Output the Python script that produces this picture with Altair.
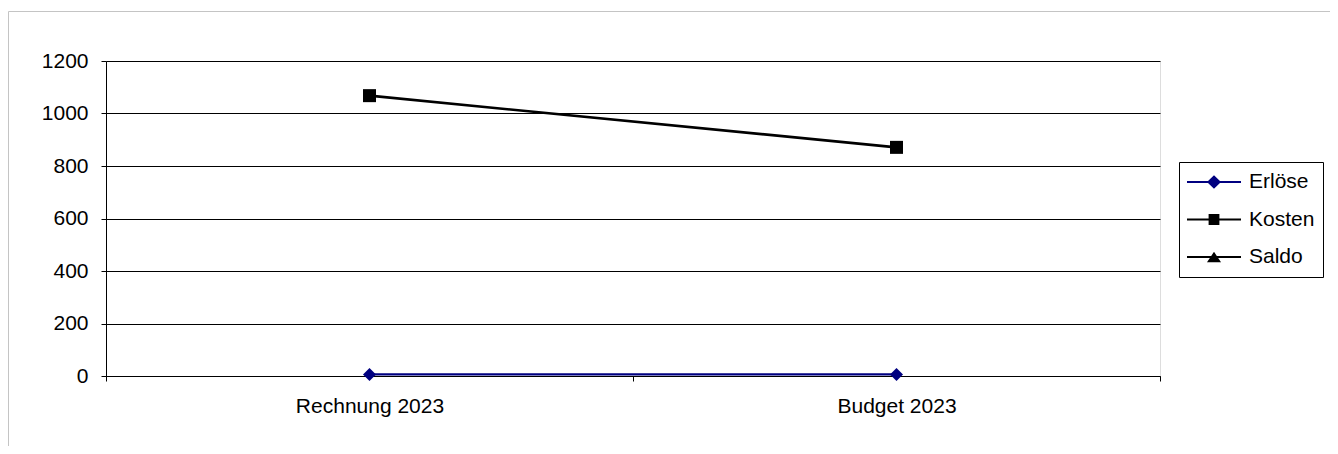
import altair as alt
import pandas as pd

categories = ["Rechnung 2023", "Budget 2023"]
series_names = ["Erlöse", "Kosten", "Saldo"]
erloese = [6, 6]
kosten = [1068, 871]
y_ticks = [0, 200, 400, 600, 800, 1000, 1200]

series_colors = ["#000080", "#000000", "#000000"]
plot_shapes = ["diamond", "square", "triangle-up"]
plot_sizes = [170, 169, 150]
line_widths = [2.2, 2.6, 2.2]
legend_shapes = [
    "M-1,-0.034H1V0.034H-1Z M0,-0.25L0.26,0L0,0.25L-0.26,0Z",
    "M-1,-0.034H1V0.034H-1Z M-0.2,-0.2H0.2V0.2H-0.2Z",
    "M-1,-0.034H1V0.034H-1Z M0,-0.19L0.26,0.19H-0.26Z",
]

rows = []
for c, v in zip(categories, erloese):
    rows.append({"Kategorie": c, "Serie": "Erlöse", "Wert": v})
for c, v in zip(categories, kosten):
    rows.append({"Kategorie": c, "Serie": "Kosten", "Wert": v})
df = pd.DataFrame(rows)

FONT = "Liberation Sans"
FS = 21

x_enc = alt.X(
    "Kategorie:N",
    sort=categories,
    scale=alt.Scale(type="band", domain=categories, paddingInner=0, paddingOuter=0),
    axis=alt.Axis(
        title=None, labelAngle=0, tickBand="extent", grid=False,
        domainColor="black", tickColor="black", tickSize=5, labelPadding=14,
        labelFontSize=FS, labelFont=FONT, labelColor="black",
    ),
)
y_enc = alt.Y(
    "Wert:Q",
    scale=alt.Scale(domain=[0, 1200], nice=False, zero=True),
    axis=alt.Axis(
        title=None, values=y_ticks, format="d", grid=True, gridColor="black", gridWidth=1,
        domainColor="black", tickColor="black", tickSize=5, labelPadding=13,
        labelFontSize=FS, labelFont=FONT, labelColor="black",
    ),
)
color_scale = alt.Scale(domain=series_names, range=series_colors)

frame = alt.Chart(pd.DataFrame({"a": [0]})).mark_rect(
    filled=False, stroke="#c4c4c4", strokeWidth=1, clip=False
).encode(
    x=alt.value(-97.5), x2=alt.value(3000), y=alt.value(-49.5), y2=alt.value(3000)
)

layers = [frame]
for name, col, shp, sz, lw in zip(series_names, series_colors, plot_shapes, plot_sizes, line_widths):
    base = alt.Chart(df).transform_filter(alt.datum.Serie == name)
    layers.append(base.mark_line(color=col, strokeWidth=lw).encode(x=x_enc, y=y_enc))
    layers.append(
        base.mark_point(shape=shp, filled=True, size=sz, opacity=1, color=col).encode(x=x_enc, y=y_enc)
    )

legend_def = alt.Legend(
    title=None, orient="none", legendX=1073, legendY=101,
    symbolSize=2916, symbolStrokeWidth=0, symbolOffset=0, symbolOpacity=1,
    clipHeight=24, rowPadding=13.5, padding=8,
    strokeColor="black", fillColor="white",
    labelFontSize=FS, labelFont=FONT, labelColor="black", labelOffset=8,
)

legend_layer = alt.Chart(df).transform_filter("false").mark_point(
    filled=True, size=2916, opacity=1
).encode(
    x=x_enc, y=y_enc,
    color=alt.Color("Serie:N", scale=color_scale, legend=legend_def),
    shape=alt.Shape("Serie:N", scale=alt.Scale(domain=series_names, range=legend_shapes), legend=legend_def),
)
layers.append(legend_layer)

chart = alt.layer(*layers).properties(
    width=1054, height=315,
    autosize=alt.AutoSizeParams(type="none"),
    padding={"left": 98, "top": 53, "right": 170, "bottom": 70},
).configure_view(strokeWidth=0).configure(background="white")

chart.save("out.html", embed_options={"renderer": "svg", "actions": False})
